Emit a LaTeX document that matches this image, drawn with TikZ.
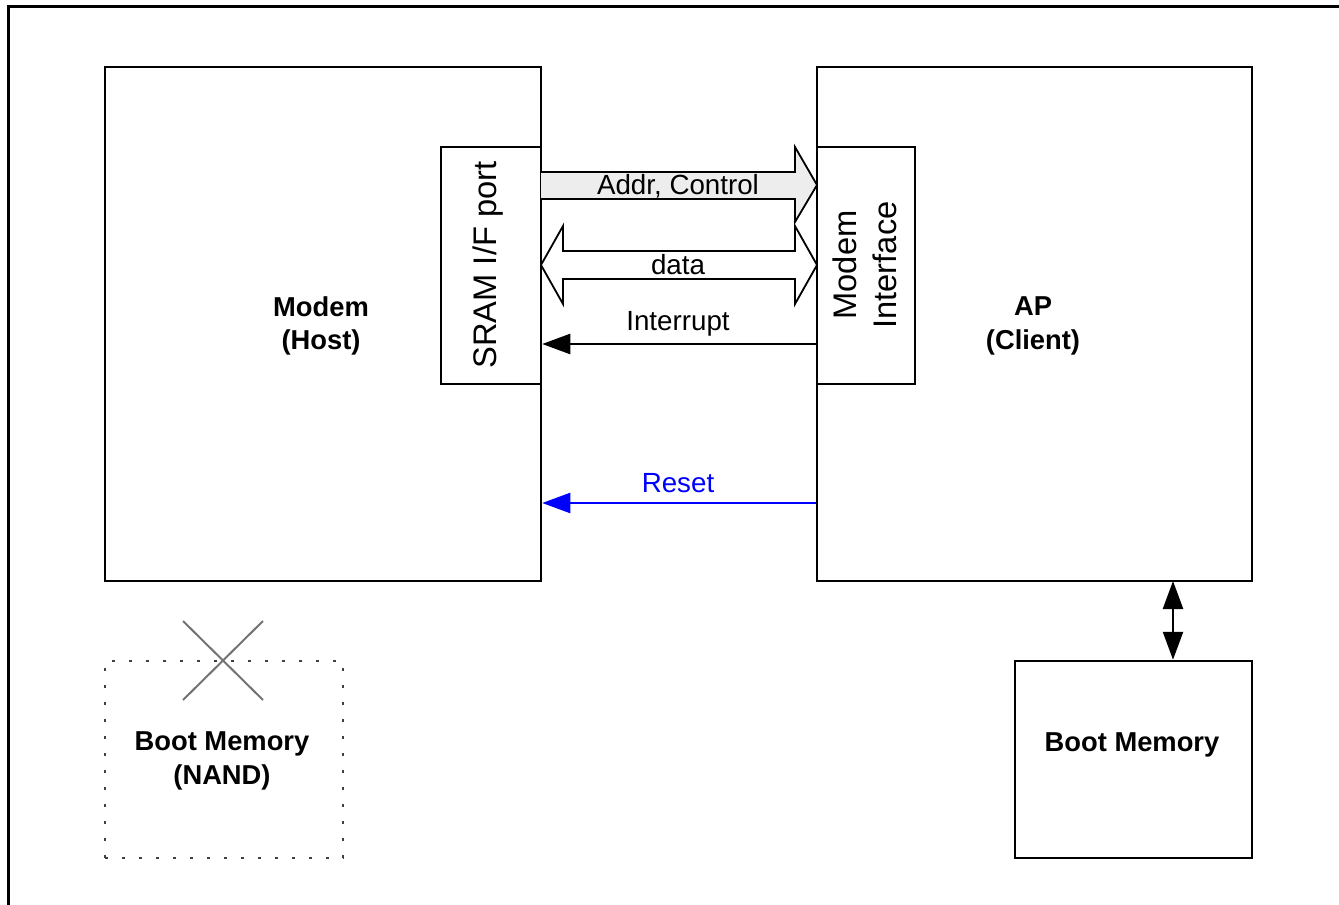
\documentclass[tikz,border=0pt]{standalone}
\usepackage{fontspec}
\setmainfont{Liberation Sans}
\usetikzlibrary{arrows.meta,calc}
\newcommand\pxu{0.75pt}
\begin{document}
\begin{tikzpicture}[x=0.75pt,y=-0.75pt,
  box/.style={draw=black, line width=2.5*\pxu, inner sep=0pt},
  lbl/.style={font=\fontsize{20.8pt}{25pt}\selectfont, inner sep=0pt, align=center},
  blbl/.style={font=\fontsize{20.5pt}{25pt}\selectfont\bfseries, inner sep=0pt, align=center},
  vlbl/.style={font=\fontsize{24.5pt}{30pt}\selectfont, inner sep=0pt, align=center, rotate=90},
  fat/.style={draw=black, line width=1.8*\pxu, line join=miter},
  tip/.style={line width=2.4*\pxu, -{Triangle[length=28*\pxu, width=20*\pxu]}},
  dtip/.style={line width=2.4*\pxu, {Triangle[length=28*\pxu, width=20*\pxu]}-{Triangle[length=28*\pxu, width=20*\pxu]}}]
\useasboundingbox (0,0) rectangle (1339,905);
% outer frame (top and left visible)
\draw[line width=3*\pxu] (1339,7) -- (8,7) -- (8,905);
% main boxes
\node[box, minimum width=436*\pxu, minimum height=514*\pxu] (modem) at (323,324) {};
\node[box, minimum width=435*\pxu, minimum height=514*\pxu] (ap) at (1034.5,324) {};
\node[box, fill=white, minimum width=100*\pxu, minimum height=237*\pxu] (sram) at (491,265.5) {};
\node[box, fill=white, minimum width=98*\pxu, minimum height=237*\pxu] (mif) at (866,265.5) {};
\node[box, minimum width=237*\pxu, minimum height=197*\pxu] (bootr) at (1133.5,759.5) {};
\node[draw=black!75, line width=2.6*\pxu, dash pattern=on 2.6*\pxu off 14.4*\pxu, inner sep=0pt, minimum width=238*\pxu, minimum height=197*\pxu] (bootl) at (224,759.5) {};
% texts
\node[blbl] (tmodem) at (321,326) {Modem\\(Host)};
\node[blbl] (tap) at (1033,326) {AP\\(Client)};
\node[blbl] (tbootl) at (222,761) {Boot Memory\\(NAND)};
\node[blbl] (tbootr) at (1132,745) {Boot Memory};
\node[vlbl] (tsram) at (488,265) {SRAM I/F port};
\node[vlbl] (tmif) at (865,265) {Modem\\Interface};
% cross over NAND
\draw[black!55, line width=2*\pxu] (183,621) -- (263,700) (263,621) -- (183,700);
% fat arrows
\draw[fat, fill=black!7] (541,172) -- (795,172) -- (795,147) -- (817,185) -- (795,222) -- (795,199) -- (541,199);
\draw[fat, fill=white] (541,265) -- (563,226) -- (563,251) -- (795,251) -- (795,226) -- (817,265) -- (795,304) -- (795,279) -- (563,279) -- (563,304) -- cycle;
\node[lbl] (taddr) at (678,186) {Addr, Control};
\node[lbl] (tdata) at (678,265) {data};
% interrupt and reset
\coordinate (iy) at (0,344);
\coordinate (ry) at (0,503);
\draw[tip] (mif.west |- iy) -- (sram.east |- iy);
\node[lbl] (tint) at (678,324) {Interrupt};
\draw[tip, blue] (ap.west |- ry) -- (modem.east |- ry);
\node[lbl, text=blue] (treset) at (678,483) {Reset};
% AP <-> boot memory
\draw[dtip] (1173,581) coordinate (a1) -- (a1 |- bootr.north);
\end{tikzpicture}
\end{document}
